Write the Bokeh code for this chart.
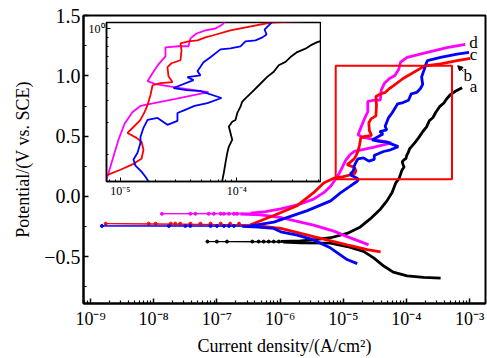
import numpy as np
from bokeh.plotting import figure
from bokeh.models import (FixedTicker, CustomJSTickFormatter, Range1d, Label, Arrow, NormalHead)
from bokeh.embed import file_html
from bokeh.resources import INLINE

# ---------------- data: log10(current density / A cm^-2) and potential (V vs. SCE) ----------------
# curve a (black)
a_cath_logi = [-3.46, -3.73, -3.99, -4.21, -4.36, -4.52, -4.68, -4.94, -5.20, -5.68, -5.95]
a_cath_E = [-0.678, -0.672, -0.659, -0.629, -0.578, -0.510, -0.456, -0.416, -0.388, -0.386, -0.380]
a_ecorr = -0.375
a_dots_logi = [-7.15, -7.00, -6.84, -6.44, -6.34, -6.26, -6.18, -6.10, -6.02]
a_anod_logi = [-5.99, -5.68, -5.47, -5.20, -4.94, -4.73, -4.57, -4.41, -4.31, -4.23, -4.17,
               -4.125, -4.111, -4.097, -4.082, -4.068, -4.039, -4.054, -4.068, -4.039, -4.011,
               -3.996, -3.968, -3.953, -3.925, -3.867, -3.810, -3.738, -3.682, -3.639, -3.581,
               -3.538, -3.480, -3.409, -3.366, -3.308, -3.22, -3.12]
a_anod_E = [-0.373, -0.369, -0.361, -0.343, -0.307, -0.253, -0.185, -0.104, -0.037, 0.031, 0.112,
            0.143, 0.159, 0.180, 0.204, 0.222, 0.242, 0.264, 0.287, 0.305, 0.312,
            0.340, 0.370, 0.394, 0.411, 0.447, 0.486, 0.541, 0.577, 0.628, 0.655,
            0.697, 0.743, 0.776, 0.809, 0.844, 0.875, 0.903]

# curve b (red)
b_cath_logi = [-4.41, -4.62, -4.94, -5.47, -5.99, -6.23, -6.47]
b_cath_E = [-0.461, -0.442, -0.402, -0.334, -0.266, -0.250, -0.236]
b_ecorr = -0.226
b_dots_logi = [-8.76, -8.08, -7.97, -7.73, -7.66, -7.58, -7.42, -7.26, -7.10, -6.94, -6.79, -6.65]
b_anod_logi = [-6.47, -6.10, -5.73, -5.47, -5.31, -5.15, -5.00,
               -4.888, -4.819, -4.802, -4.819, -4.862, -4.939, -4.888, -4.828, -4.793, -4.767,
               -4.742, -4.724, -4.656, -4.553, -4.587, -4.596, -4.561, -4.484, -4.475, -4.484,
               -4.415, -4.338, -4.269, -4.209, -4.054, -3.71, -3.46, -3.20, -2.99]
b_anod_E = [-0.235, -0.158, -0.077, 0.031, 0.112, 0.151, 0.165,
            0.178, 0.190, 0.213, 0.236, 0.248, 0.264, 0.285, 0.312, 0.345, 0.377,
            0.429, 0.486, 0.499, 0.506, 0.546, 0.612, 0.644, 0.669, 0.759, 0.830,
            0.851, 0.863, 0.896, 0.918, 0.979, 1.084, 1.100, 1.127, 1.146]

# curve c (blue)
c_cath_logi = [-4.78, -4.94, -5.20, -5.47, -5.73, -5.99, -6.10, -6.35, -6.60]
c_cath_E = [-0.558, -0.524, -0.429, -0.361, -0.321, -0.294, -0.266, -0.255, -0.248]
c_ecorr = -0.245
c_dots_logi = [-8.82, -7.76, -7.50, -7.42, -7.10, -7.00, -6.89, -6.81, -6.73]
c_anod_logi = [-6.47, -6.10, -5.57, -5.20, -5.04, -4.89, -4.78,
               -4.759, -4.785, -4.819, -4.871, -4.888, -4.853, -4.828, -4.828, -4.802, -4.767,
               -4.681, -4.596, -4.510, -4.510, -4.449, -4.363, -4.252, -4.131, -4.312, -4.432,
               -4.544, -4.372, -4.424, -4.312, -4.338, -4.286, -4.226, -4.140, -4.054, -3.968,
               -3.925, -3.839, -3.779, -3.744, -3.761, -3.727, -3.692, -3.67, -3.46, -3.20, -3.01]
c_anod_E = [-0.244, -0.213, -0.118, -0.037, 0.031, 0.085, 0.126,
            0.142, 0.151, 0.161, 0.174, 0.188, 0.205, 0.233, 0.251, 0.282, 0.312,
            0.320, 0.293, 0.308, 0.341, 0.354, 0.373, 0.387, 0.413, 0.451, 0.457,
            0.469, 0.519, 0.539, 0.552, 0.582, 0.652, 0.695, 0.769, 0.779, 0.799,
            0.852, 0.863, 0.896, 0.931, 0.991, 1.042, 1.097, 1.127, 1.154, 1.181, 1.195]

# curve d (magenta)
d_cath_logi = [-4.60, -4.73, -4.94, -5.15, -5.47, -5.73, -5.99, -6.31, -6.63]
d_cath_E = [-0.402, -0.375, -0.334, -0.288, -0.239, -0.207, -0.175, -0.154, -0.146]
d_ecorr = -0.144
d_dots_logi = [-7.87, -7.42, -7.34, -7.13, -7.05, -6.94, -6.89, -6.81, -6.73, -6.68]
d_anod_logi = [-6.47, -6.23, -5.99, -5.68, -5.47, -5.31, -5.20, -5.12,
               -5.068, -5.017, -4.965, -4.896, -4.828, -4.527, -4.243, -4.484, -4.699, -4.767,
               -4.725, -4.673, -4.613, -4.613, -4.501, -4.415, -4.398, -4.346, -4.269, -4.183,
               -4.123, -4.095, -3.99, -3.67, -3.36, -3.07]
d_anod_E = [-0.138, -0.126, -0.104, -0.063, -0.023, 0.031, 0.085, 0.145,
            0.188, 0.242, 0.297, 0.345, 0.373, 0.408, 0.445, 0.469, 0.493, 0.512,
            0.567, 0.635, 0.703, 0.789, 0.800, 0.800, 0.885, 0.942, 0.979, 1.004,
            1.056, 1.114, 1.154, 1.195, 1.235, 1.262]

curve_labels = ["a", "b", "c", "d"]

# zoomed region (red box in main plot = inset ranges)
zoom_logi = [-5.12, -3.28]
zoom_E = [0.142, 1.084]

# ticks
x_major = [1e-9, 1e-8, 1e-7, 1e-6, 1e-5, 1e-4, 1e-3]
y_major = [-0.5, 0.0, 0.5, 1.0, 1.5]
y_minor = [-0.75, -0.25, 0.25, 0.75, 1.25]
inset_x_major = [1e-5, 1e-4]
inset_y_major = [1.0]

# ---------------- helpers ----------------
SERIF = "Liberation Serif"
COLORS = {"a": "#000000", "b": "#ff0000", "c": "#0000ff", "d": "#ff00ff"}

curves = {
    "a": (a_cath_logi, a_cath_E, a_ecorr, a_dots_logi, a_anod_logi, a_anod_E),
    "b": (b_cath_logi, b_cath_E, b_ecorr, b_dots_logi, b_anod_logi, b_anod_E),
    "c": (c_cath_logi, c_cath_E, c_ecorr, c_dots_logi, c_anod_logi, c_anod_E),
    "d": (d_cath_logi, d_cath_E, d_ecorr, d_dots_logi, d_anod_logi, d_anod_E),
}

def minors(lo, hi):
    out = []
    for e in range(lo, hi):
        for m in range(2, 10):
            out.append(m * 10.0 ** e)
    return out

sup_js = """
const sup = {"-":"\u207b","0":"\u2070","1":"\u00b9","2":"\u00b2","3":"\u00b3","4":"\u2074",
             "5":"\u2075","6":"\u2076","7":"\u2077","8":"\u2078","9":"\u2079"};
const e = Math.round(Math.log10(tick));
return "10" + String(e).split("").map(c => sup[c]).join("");
"""

# ---------------- main figure ----------------
p = figure(width=487, height=358, x_axis_type="log",
           x_range=Range1d(10 ** -9.111, 10 ** -2.75), y_range=Range1d(-0.889, 1.502),
           output_backend="svg", toolbar_location=None,
           min_border_left=83, min_border_right=2, min_border_top=15, min_border_bottom=48)
p.grid.visible = False
p.background_fill_color = "white"
p.border_fill_color = "white"
p.outline_line_color = "black"
p.outline_line_width = 2

p.xaxis.ticker = FixedTicker(ticks=x_major, minor_ticks=minors(-10, -2))
p.xaxis.formatter = CustomJSTickFormatter(code=sup_js)
p.yaxis.ticker = FixedTicker(ticks=y_major, minor_ticks=y_minor)
p.yaxis.formatter = CustomJSTickFormatter(
    code='return (tick < 0 ? "\u2212" : "") + Math.abs(tick).toFixed(1);')
for ax in (p.xaxis[0], p.yaxis[0]):
    ax.axis_line_width = 2
    ax.axis_line_color = "black"
    ax.major_tick_in = 5
    ax.major_tick_out = 0
    ax.minor_tick_in = 3
    ax.minor_tick_out = 0
    ax.major_tick_line_width = 1.5
    ax.minor_tick_line_width = 1.2
    ax.major_tick_line_color = "black"
    ax.minor_tick_line_color = "black"
    ax.major_label_text_font = SERIF
    ax.major_label_text_font_size = "18px"
    ax.major_label_text_color = "black"
    ax.axis_label_text_font = SERIF
    ax.axis_label_text_font_size = "18px"
    ax.axis_label_text_font_style = "normal"
    ax.axis_label_text_color = "black"
p.yaxis.major_label_text_font_size = "20px"
p.xaxis.axis_label = "Current density/(A/cm\u00b2)"
p.yaxis.axis_label = "Potential/(V vs. SCE)"
p.xaxis.major_label_standoff = 5
p.xaxis.axis_label_standoff = 4
p.yaxis.major_label_standoff = 3
p.yaxis.axis_label_standoff = 8

order = ["a", "d", "b", "c"]
for k in order:
    cl, ce, ec, dl, al, ae = curves[k]
    col = COLORS[k]
    p.line(10 ** np.array(cl), ce, line_color=col, line_width=2.8)
    p.line(10 ** np.array([cl[-1], min(dl), al[0]]), [ce[-1], ec, ae[0]],
           line_color=col, line_width=1)
    p.scatter(10 ** np.array(dl), [ec] * len(dl), size=3, marker="circle",
              fill_color=col, line_color=col)
    p.line(10 ** np.array(al), ae, line_color=col, line_width=2.8)

p.quad(left=[10 ** zoom_logi[0]], right=[10 ** zoom_logi[1]],
       bottom=[zoom_E[0]], top=[zoom_E[1]],
       fill_alpha=0, line_color="#ff0000", line_width=2)

label_pos = {"a": (10 ** -2.94, 0.913), "b": (10 ** -3.03, 1.00),
             "c": (10 ** -2.94, 1.182), "d": (10 ** -2.94, 1.276)}
for k in curve_labels:
    x, y = label_pos[k]
    p.add_layout(Label(x=x, y=y, text=k, text_font=SERIF, text_font_size="17px",
                       text_align="center", text_baseline="middle", text_color="black"))
p.add_layout(Arrow(end=NormalHead(size=5, fill_color="black", line_color="black"),
                   x_start=10 ** -3.10, y_start=1.04, x_end=10 ** -3.19, y_end=1.085,
                   line_color="black", line_width=1))

# ---------------- inset figure ----------------
ins = figure(width=237, height=179, x_axis_type="log", y_axis_type="log",
             x_range=Range1d(10 ** zoom_logi[0], 10 ** zoom_logi[1]),
             y_range=Range1d(zoom_E[0], zoom_E[1]),
             output_backend="svg", toolbar_location=None,
             min_border_left=22, min_border_right=1, min_border_top=1, min_border_bottom=18)
ins.grid.visible = False
ins.background_fill_color = "white"
ins.border_fill_color = None
ins.outline_line_color = "black"
ins.outline_line_width = 1.5
ins.xaxis.ticker = FixedTicker(ticks=inset_x_major, minor_ticks=minors(-6, -3))
ins.xaxis.formatter = CustomJSTickFormatter(code=sup_js)
ins.yaxis.ticker = FixedTicker(ticks=inset_y_major,
                               minor_ticks=[m / 10 for m in range(1, 10)])
ins.yaxis.formatter = CustomJSTickFormatter(code=sup_js)
for ax in (ins.xaxis[0], ins.yaxis[0]):
    ax.axis_line_width = 1.5
    ax.major_tick_in = 4
    ax.major_tick_out = 0
    ax.minor_tick_in = 2
    ax.minor_tick_out = 0
    ax.major_label_text_font = SERIF
    ax.major_label_text_font_size = "12px"
    ax.major_label_text_color = "black"
    ax.major_label_standoff = 2

for k in order:
    cl, ce, ec, dl, al, ae = curves[k]
    ins.line(10 ** np.array(al), ae, line_color=COLORS[k], line_width=1.8)

ins.styles = {"position": "absolute", "left": "84px", "top": "21px", "z-index": "5"}

open("out.html", "w").write(file_html([p, ins], INLINE))
